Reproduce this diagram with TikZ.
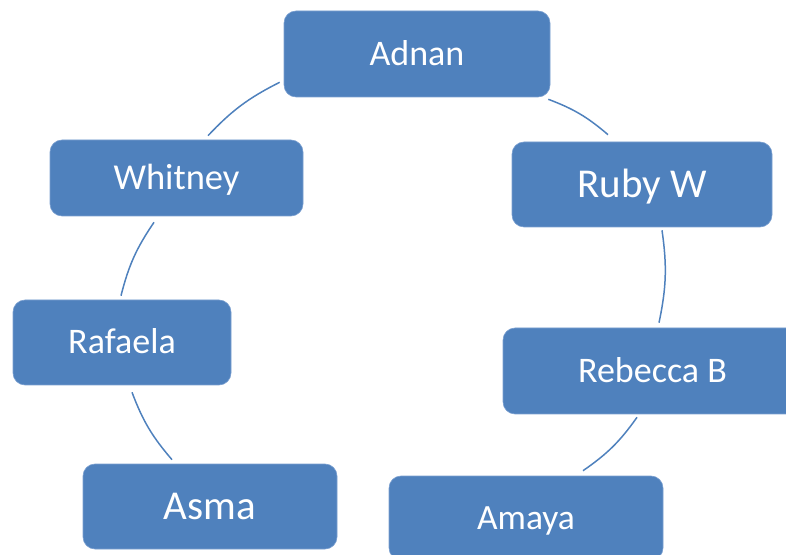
\documentclass[tikz,border=0pt]{standalone}
\usepackage{fontspec}
\setmainfont{Carlito}
\usetikzlibrary{calc}
\definecolor{boxblue}{HTML}{4F81BD}
\definecolor{edgeblue}{HTML}{7A9FD0}
\newcommand{\boxlabel}[2]{\fontsize{#1}{#1}\selectfont\raisebox{-0.316em}{#2}}
\begin{document}
\begin{tikzpicture}[x=1pt,y=1pt,
  namebox/.style={rectangle, rounded corners=12pt, fill=boxblue, draw=edgeblue, line width=0.6pt,
    inner sep=0pt, text=white, text height=0pt, text depth=0pt},
  ring/.style={draw=boxblue, line width=1.5pt}]
\useasboundingbox (0,0) rectangle (786,554);
\clip (0,0) rectangle (786,554);
\node[namebox, minimum width=266pt, minimum height=86pt] (adnan) at (417,500) {\boxlabel{36}{Adnan}};
\node[namebox, minimum width=260pt, minimum height=85pt] (ruby) at (642,369.5) {\boxlabel{41}{Ruby W}};
\node[namebox, minimum width=299pt, minimum height=86pt] (rebecca) at (652.5,183) {\boxlabel{36}{Rebecca B}};
\node[namebox, minimum width=274pt, minimum height=84pt] (amaya) at (526,36) {\boxlabel{35.5}{Amaya}};
\node[namebox, minimum width=254pt, minimum height=85pt] (asma) at (210,47.5) {\boxlabel{41}{Asma}};
\node[namebox, minimum width=218pt, minimum height=85pt] (rafaela) at (122,211.5) {\boxlabel{36}{Rafaela}};
\node[namebox, minimum width=253pt, minimum height=76pt] (whitney) at (176.5,376) {\boxlabel{36.5}{Whitney}};
\draw[ring] ($(adnan.south east)+(-2,-2)$) to[bend left=10] ($(ruby.north)+(-34,7)$);
\draw[ring] ($(ruby.south)+(20,-3)$) to[bend left=10] ($(rebecca.north)+(6.5,5)$);
\draw[ring] ($(rebecca.south)+(-15.5,-3)$) to[bend left=10] ($(amaya.north)+(57,5)$);
\draw[ring] ($(asma.north)+(-38,4)$) to[bend left=10] ($(rafaela.south)+(10,-7)$);
\draw[ring] ($(rafaela.north)+(-1,4)$) to[bend left=10] ($(whitney.south)+(-22.5,-6)$);
\draw[ring] ($(whitney.north)+(31.5,4)$) to[bend left=10] ($(adnan.south west)+(-4,15)$);
\end{tikzpicture}
\end{document}
